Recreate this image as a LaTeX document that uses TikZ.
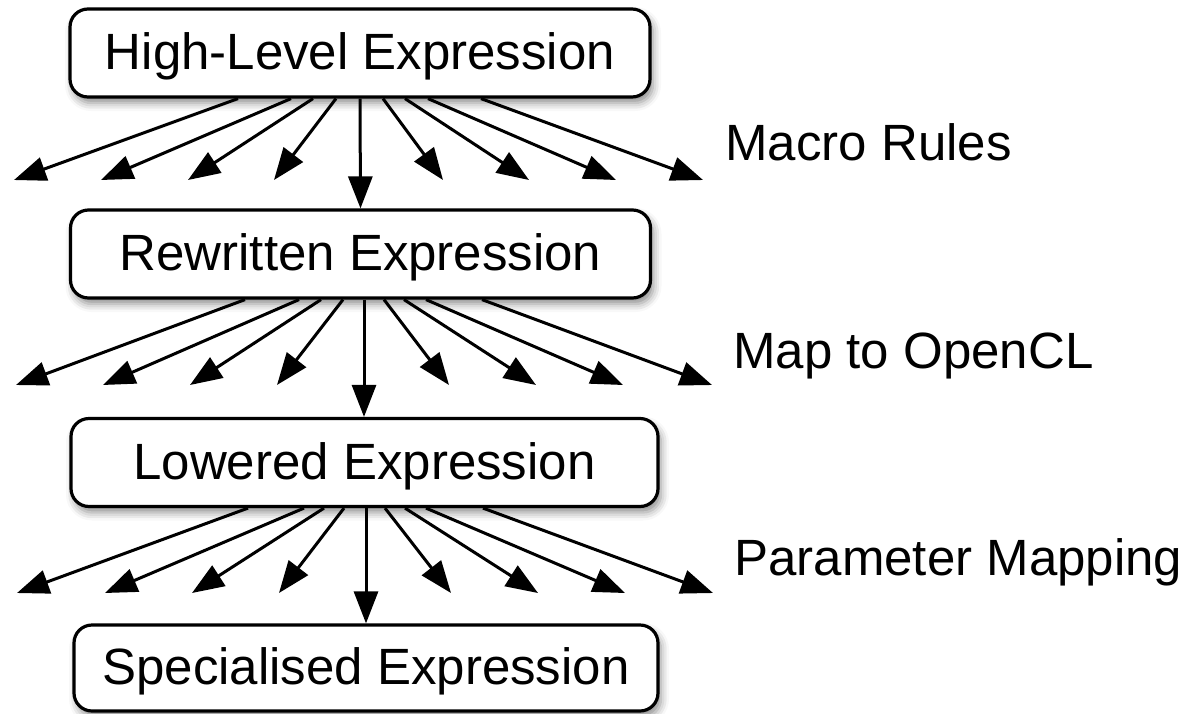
\documentclass[tikz,border=0pt]{standalone}
\usepackage{fontspec}
\setmainfont{Liberation Sans}
\usetikzlibrary{arrows.meta,calc,shadows.blur}
\begin{document}
\begin{tikzpicture}[x=0.5pt,y=-0.5pt,
  exprbox/.style={draw=black, line width=1.6pt, rounded corners=9pt, fill=white,
    blur shadow={shadow xshift=1.5pt, shadow yshift=-3pt, shadow blur radius=4pt, shadow opacity=45},
    font=\fontsize{25.5pt}{30pt}\selectfont, text height=20.5pt, text depth=3.7pt,
    inner sep=0pt, minimum height=44pt},
  lbl/.style={font=\fontsize{25.5pt}{30pt}\selectfont, inner sep=0pt, anchor=base west},
  arr/.style={line width=1.5pt, -{Triangle[length=16pt,width=12pt]}}
]
\useasboundingbox (0,0) rectangle (1195,713);

\node[exprbox, minimum width=290pt] (b1) at (360,53) {High-Level Expression};
\node[exprbox, minimum width=290pt] (b2) at (360.5,254) {Rewritten Expression};
\node[exprbox, minimum width=293.5pt] (b3) at (364.5,462.5) {Lowered Expression};
\node[exprbox, minimum width=292pt, minimum height=43pt] (b4) at (366,668) {Specialised Expression};

\node[lbl] (m1) at (725,160) {Macro Rules};
\node[lbl] (m2) at (733,368) {Map to OpenCL};
\node[lbl] (m3) at (734,575) {Parameter Mapping};

% level 1
\foreach \s/\t [count=\i] in {238/14, 291/101, 313/188, 336/274, 383/443, 405/529, 428/616, 481/703} {
  \coordinate (p1\i) at (\t,180);
  \draw[arr] ($(b1.south)+(\s-360,0)$) -- (p1\i);
}
\draw[arr] (b1.south) -- (b2.north);

% level 2
\foreach \s/\t [count=\i] in {245/16, 299/103, 321/190, 343/277, 384/449, 404/536, 426/623, 482/712} {
  \coordinate (p2\i) at (\t,385);
  \draw[arr] ($(b2.south)+(\s-360.5,0)$) -- (p2\i);
}
\draw[arr] ($(b2.south)+(3.5,0)$) -- ($(b3.north)+(-0.5,0)$);

% level 3
\foreach \s/\t [count=\i] in {248/17, 304/105, 324/192, 344/279, 385/451, 405/538, 426/625, 483/713} {
  \coordinate (p3\i) at (\t,593);
  \draw[arr] ($(b3.south)+(\s-364.5,0)$) -- (p3\i);
}
\draw[arr] ($(b3.south)+(1.5,0)$) -- (b4.north);
\end{tikzpicture}
\end{document}
